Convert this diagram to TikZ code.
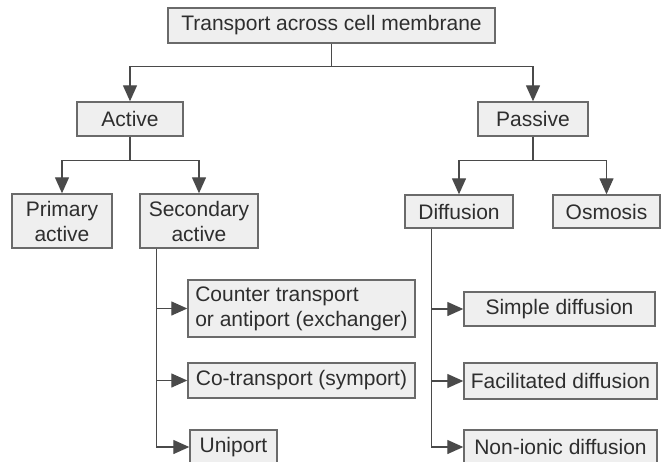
\documentclass[tikz,border=0pt]{standalone}
\usepackage{fontspec}
\setmainfont{Liberation Sans}
\usetikzlibrary{arrows.meta}
\definecolor{boxfill}{HTML}{EFEFEF}
\definecolor{boxline}{HTML}{6A6A6A}
\definecolor{linkline}{HTML}{4A4A4A}
\definecolor{textgray}{HTML}{2E2E2E}
\begin{document}
\begin{tikzpicture}[x=1pt,y=-1pt,
    box/.style={draw=boxline,fill=boxfill,line width=1.4pt,inner sep=0pt,
        text=textgray,font=\fontsize{21}{25}\selectfont},
    link/.style={draw=linkline,line width=1.3pt},
    arr/.style={link,-{Triangle[length=16pt,width=14pt]}}]
    \useasboundingbox (0,0) rectangle (664,461);
    \node [box,minimum width=327pt,minimum height=35pt] (top) at (331.5,25.5) {Transport across cell membrane};
    \node [box,minimum width=106pt,minimum height=34pt] (active) at (130,119) {Active};
    \node [box,minimum width=110pt,minimum height=34pt] (passive) at (533,119) {Passive};
    \node [box,minimum width=100pt,minimum height=54pt,align=center] (primary) at (62,221) {Primary\\active};
    \node [box,minimum width=118pt,minimum height=54pt,align=center] (secondary) at (199,221) {Secondary\\active};
    \node [box,minimum width=108pt,minimum height=33pt] (diffusion) at (459,211.5) {Diffusion};
    \node [box,minimum width=107pt,minimum height=33pt] (osmosis) at (606.5,211.5) {Osmosis};
    \node [box,minimum width=227pt,minimum height=57pt,align=left] (counter) at (301.5,308.5) {Counter transport\\or antiport (exchanger)};
    \node [box,minimum width=227pt,minimum height=35pt] (cotransport) at (301.5,380.5) {Co-transport (symport)};
    \node [box,minimum width=87pt,minimum height=34pt] (uniport) at (233.5,447) {Uniport};
    \node [box,minimum width=191pt,minimum height=34pt] (simple) at (559.5,309) {Simple diffusion};
    \node [box,minimum width=193pt,minimum height=36pt] (facilitated) at (560.5,381) {Facilitated diffusion};
    \node [box,minimum width=193pt,minimum height=34pt] (nonionic) at (560.5,447) {Non-ionic diffusion};
    \draw [arr] (top.south) -- ++(0,23) -| (active.north);
    \draw [arr] (top.south) -- ++(0,23) -| (passive.north);
    \draw [arr] (active.south) -- ++(0,24) -| (primary.north);
    \draw [arr] (active.south) -- ++(0,24) -| (secondary.north);
    \draw [arr] (passive.south) -- ++(0,24) -| (diffusion.north);
    \draw [arr] (passive.south) -- ++(0,24) -| (osmosis.north);
    \draw [arr] ([xshift=17pt]secondary.south west) |- (counter.west);
    \draw [arr] ([xshift=17pt]secondary.south west) |- (cotransport.west);
    \draw [arr] ([xshift=17pt]secondary.south west) |- (uniport.west);
    \draw [arr] ([xshift=27pt]diffusion.south west) |- (simple.west);
    \draw [arr] ([xshift=27pt]diffusion.south west) |- (facilitated.west);
    \draw [arr] ([xshift=27pt]diffusion.south west) |- (nonionic.west);
\end{tikzpicture}
\end{document}
